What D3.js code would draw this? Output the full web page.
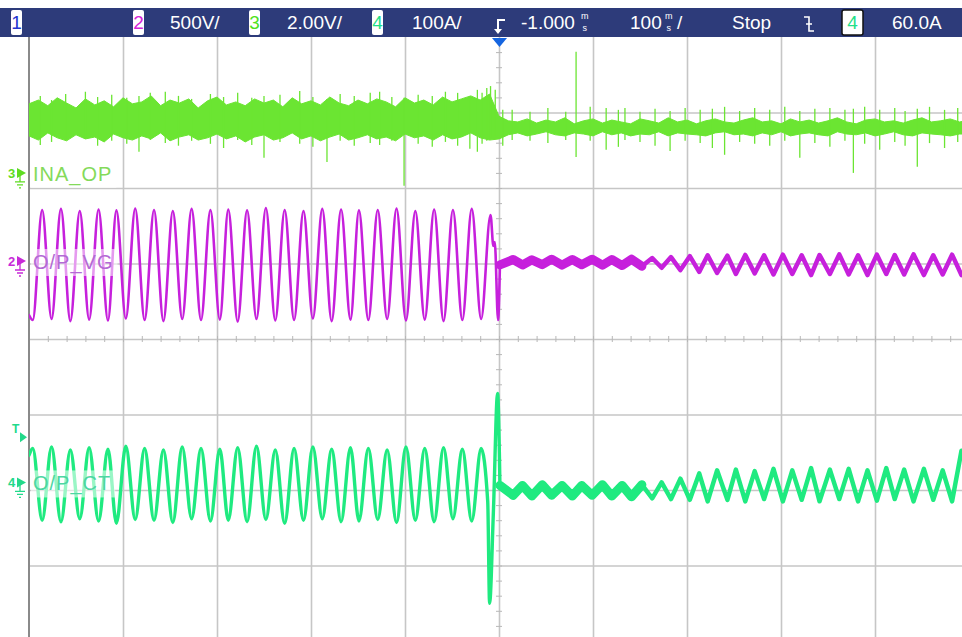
<!DOCTYPE html>
<html>
<head>
<meta charset="utf-8">
<script src="https://cdn.jsdelivr.net/npm/d3@7"></script>
<style>
  html, body { margin: 0; padding: 0; background: #fff; }
  svg { display: block; }
  text { font-family: "Liberation Sans", Arial, sans-serif; }
</style>
</head>
<body>
<svg id="scope" width="962" height="637"></svg>
<script>
// ---------------- channel data (time in ms, trigger at 0) ----------------

// Channel 3 (INA_OP, volts): noise envelope sampled every 10 ms from -500 to 500 ms
const inaHigh = [
  1.83,1.93,1.78,1.99,1.85,1.72,1.96,1.80,1.91,1.75,
  1.99,1.83,1.88,2.04,1.78,1.93,1.85,1.96,1.72,1.91,
  2.01,1.80,1.88,1.78,1.96,1.85,1.93,1.75,1.99,1.83,
  1.91,1.80,2.01,1.85,1.78,1.93,1.83,1.96,1.88,1.75,
  1.99,1.85,1.93,1.80,2.01,1.88,1.96,2.04,1.93,2.09,
  1.50,
  1.38,1.35,1.43,1.32,1.40,1.35,1.46,1.30,1.38,1.43,
  1.32,1.40,1.35,1.30,1.43,1.38,1.32,1.46,1.35,1.40,
  1.30,1.38,1.43,1.35,1.32,1.40,1.46,1.35,1.38,1.30,
  1.43,1.35,1.40,1.32,1.38,1.46,1.35,1.30,1.40,1.43,
  1.35,1.38,1.32,1.40,1.46,1.35,1.38,1.43,1.35,1.40
];
const inaLow = [
  0.98,0.87,1.06,0.93,0.85,1.01,0.90,0.95,0.82,1.03,
  0.93,0.87,0.98,0.90,1.06,0.85,0.95,1.01,0.87,0.93,
  1.03,0.90,0.98,0.82,0.95,1.01,0.87,0.93,1.06,0.90,
  0.98,0.85,0.95,1.03,0.87,0.93,1.01,0.90,0.95,0.85,
  1.03,0.93,0.98,0.87,1.01,0.90,0.95,1.06,0.93,0.87,
  0.90,
  1.01,1.06,0.98,1.03,1.09,1.01,0.98,1.06,1.03,0.98,
  1.09,1.01,1.06,0.98,1.03,1.01,1.09,0.98,1.06,1.03,
  1.01,0.98,1.06,1.09,1.01,1.03,0.98,1.06,1.01,1.09,
  0.98,1.03,1.06,1.01,0.98,1.09,1.03,1.01,1.06,0.98,
  1.03,1.09,1.01,0.98,1.06,1.03,1.01,0.98,1.03,1.03
];
// Channel 3 glitches: [time ms, min V, max V]
const inaSpikes = [
  [-488,0.74,2.04],[-476,0.82,1.93],[-461,0.87,2.09],[-440,0.93,2.15],[-427,0.72,2.01],
  [-412,0.85,2.07],[-396,0.77,1.99],[-383,0.56,2.04],[-371,0.87,2.12],[-355,0.79,2.15],
  [-341,0.72,2.04],[-327,0.85,1.96],[-307,0.77,2.09],[-293,0.66,2.01],[-278,0.87,2.12],
  [-263,0.74,1.99],[-250,0.40,2.04],[-233,0.82,2.07],[-212,0.77,2.17],[-198,0.69,2.01],
  [-183,0.29,1.96],[-169,0.85,2.09],[-154,0.72,2.04],[-137,0.79,2.12],[-127,0.74,2.15],
  [-114,0.85,2.01],[-101,-0.34,1.99],[-86,0.77,2.07],[-71,0.69,2.04],[-57,0.82,2.15],
  [-44,0.72,2.12],[-31,0.64,2.04],[-23,0.56,2.20],[-18,0.77,2.12],[-13,0.85,2.25],
  [-9,0.93,2.30],[-4,0.98,2.20],
  [4,0.72,1.67],[14,0.87,1.67],[33,0.85,1.62],[52,0.79,1.72],[71,0.87,1.62],
  [82,0.42,3.21],[97,0.85,1.75],[114,0.61,1.72],[127,0.69,1.67],[134,0.87,1.72],
  [150,0.82,1.62],[166,0.72,1.70],[182,0.58,1.64],[198,0.85,1.72],[214,0.79,1.67],
  [227,0.66,1.70],[240,0.48,1.75],[256,0.82,1.64],[272,0.77,1.72],[288,0.72,1.67],
  [304,0.85,1.75],[320,0.40,1.64],[336,0.79,1.70],[352,0.69,1.72],[368,0.85,1.67],
  [377,0.00,1.70],[389,0.77,1.75],[405,0.61,1.67],[421,0.82,1.72],[432,0.72,1.64],
  [445,0.16,1.70],[458,0.79,1.75],[474,0.66,1.67],[488,0.82,1.72]
];

// Channel 2 (O/P_VG, volts): turning points of the 50 Hz output before the trip
const vgBefore = [
  [-500,-358],[-496,-391],[-486,338],[-476,-384],[-466,345],[-456,-398],[-446,331],[-436,-388],
  [-426,341],[-416,-394],[-407,335],[-397,-381],[-387,348],[-377,-391],[-367,338],[-357,-398],
  [-347,331],[-337,-384],[-327,345],[-317,-391],[-307,338],[-297,-388],[-288,341],[-278,-401],
  [-268,335],[-258,-384],[-248,351],[-238,-394],[-228,338],[-218,-391],[-208,331],[-198,-381],
  [-188,345],[-178,-398],[-168,341],[-158,-388],[-149,335],[-139,-391],[-129,338],[-119,-384],
  [-109,348],[-99,-394],[-89,331],[-79,-388],[-69,341],[-59,-398],[-49,338],[-39,-391],
  [-29,345],[-19,-384],[-9,305],[-6,100],[-4.5,125],[-1,-391]
];
// ...and the residual ripple after it
const vgAfter = [
  [1,-26],[15,10],[25,-26],[35,8],[46,-24],[56,12],[67,-27],[78,10],[88,-25],[99,12],
  [110,-28],[120,10],[131,-30],[141,12],[152,-35],[163,20],[173,-45],[183,26],[193,-60],
  [203,32],[213,-72],[222,38],[232,-79],[243,36],[252,-86],[262,40],[272,-82],[282,38],
  [292,-89],[302,42],[312,-86],[322,38],[332,-93],[341,40],[352,-86],[362,44],[372,-89],
  [382,38],[392,-93],[402,42],[412,-86],[421,40],[431,-89],[441,44],[452,-93],[462,38],
  [472,-89],[482,42],[492,-93]
];

// Channel 4 (O/P_CT, amps): turning points before the trip, including the transient
const ctBefore = [
  [-500,36],[-496,45],[-486,-50],[-476,47],[-466,-52],[-456,43],[-446,-48],[-436,46],
  [-426,-51],[-416,44],[-407,-54],[-397,48],[-387,-49],[-377,45],[-367,-50],[-357,43],
  [-347,-53],[-337,47],[-327,-48],[-317,45],[-307,-51],[-297,44],[-288,-50],[-278,46],
  [-268,-52],[-258,48],[-248,-49],[-238,43],[-228,-54],[-218,45],[-208,-50],[-198,47],
  [-188,-48],[-178,44],[-168,-52],[-158,46],[-149,-51],[-139,45],[-129,-49],[-119,43],
  [-109,-53],[-99,47],[-89,-50],[-79,45],[-69,-52],[-59,46],[-49,-48],[-39,44],
  [-29,-51],[-19,45],[-12,-25],[-10,-160],[-6,-40],[-1.5,118]
];
const ctAfter = [
  [1,-4],[15,-17],[25,-4],[35,-18],[46,-3],[56,-17],[67,-4],[78,-18],[88,-4],[99,-17],
  [110,-3],[120,-18],[131,-4],[141,-19],[152,-3],[163,-21],[173,0],[183,-22],[193,5],
  [203,-23],[213,12],[222,-25],[232,16],[243,-23],[252,17],[262,-25],[272,15],[282,-22],
  [292,18],[302,-25],[312,16],[322,-23],[332,19],[341,-25],[352,17],[362,-22],[372,18],
  [382,-25],[392,16],[402,-24],[412,19],[421,-22],[431,17],[441,-25],[452,18],[462,-23],
  [472,16],[482,-25],[492,42]
];

// Status bar text
const channelIds   = ["1", "2", "3", "4"];
const channelScale = ["500V/", "2.00V/", "100A/"];
const timeDelay    = "-1.000";
const timeBase     = "100";
const runState     = "Stop";
const trigSource   = "4";
const trigLevel    = "60.0A";
const trigLevelAmps = 60;
const traceNames   = ["INA_OP", "O/P_VG", "O/P_CT"];

// ---------------- geometry ----------------
const W = 962, H = 637;
const plot = { left: 29, top: 37, divX: 94, divY: 75.5 };
const x = d3.scaleLinear().domain([-500, 500]).range([plot.left, plot.left + 10 * plot.divX]);
const yDiv = d3.scaleLinear().domain([-4, 4]).range([plot.top + 8 * plot.divY, plot.top]);
// per-channel vertical scale from units/div and position (divisions)
function chScale(perDiv, posDiv) {
  return d3.scaleLinear()
    .domain([(-4 - posDiv) * perDiv, (4 - posDiv) * perDiv])
    .range(yDiv.range());
}
const y2 = chScale(500, 1.033);
const y3 = chScale(2, 2.2);
const y4 = chScale(100, -1.9);

const col = {
  ch1: "#2636d0", ch2: "#c620dc", ch3: "#6be532", ch4: "#1fea80",
  lab2: "#b36ad4", lab3: "#84da5a", lab4: "#4cd6a2",
  grid: "#c6c6c6", bar: "#2d3b7a"
};

const svg = d3.select("#scope");
svg.append("rect").attr("width", W).attr("height", H).attr("fill", "#fff");

svg.append("defs").append("clipPath").attr("id", "plotClip")
  .append("rect").attr("x", plot.left).attr("y", plot.top)
  .attr("width", W - plot.left).attr("height", H - plot.top);

// ---------------- graticule ----------------
const grid = svg.append("g");
const gx = grid.append("g").attr("transform", `translate(0,${plot.top})`)
  .call(d3.axisBottom(x).tickValues(d3.range(-400, 501, 100)).tickSize(8 * plot.divY).tickFormat(""));
gx.select(".domain").remove();
gx.selectAll("line").attr("stroke", col.grid).attr("stroke-width", 1.6);

const gy = grid.append("g").attr("transform", `translate(${plot.left},0)`)
  .call(d3.axisRight(yDiv).tickValues(d3.range(-3, 4, 1)).tickSize(10 * plot.divX).tickFormat(""));
gy.select(".domain").remove();
gy.selectAll("line").attr("stroke", col.grid).attr("stroke-width", 1.6);

// minor ticks on the centre lines
const mh = grid.append("g").attr("transform", `translate(0,${yDiv(0) - 3})`)
  .call(d3.axisBottom(x).tickValues(d3.range(-480, 501, 20)).tickSize(6).tickFormat(""));
mh.select(".domain").remove();
mh.selectAll("line").attr("stroke", "#b8b8b8").attr("stroke-width", 1);
const mv = grid.append("g").attr("transform", `translate(${x(0) - 3},0)`)
  .call(d3.axisRight(yDiv).tickValues(d3.range(-3.8, 4, 0.2)).tickSize(6).tickFormat(""));
mv.select(".domain").remove();
mv.selectAll("line").attr("stroke", "#b8b8b8").attr("stroke-width", 1);

// left frame edge
grid.append("line").attr("x1", plot.left).attr("x2", plot.left)
  .attr("y1", plot.top).attr("y2", H).attr("stroke", "#8a8a8a").attr("stroke-width", 2);

// ---------------- traces ----------------
const traces = svg.append("g").attr("clip-path", "url(#plotClip)");

// channel 3: noise band + glitches
const inaTimes = d3.range(-500, 501, 10);
const inaArea = d3.area()
  .x((d, i) => x(inaTimes[i]))
  .y0((d, i) => y3(inaLow[i]))
  .y1((d, i) => y3(inaHigh[i]))
  .curve(d3.curveLinear);
traces.append("path").datum(inaHigh).attr("d", inaArea)
  .attr("fill", col.ch3).attr("stroke", col.ch3).attr("stroke-width", 1);
traces.append("g").selectAll("line").data(inaSpikes).join("line")
  .attr("x1", d => x(d[0])).attr("x2", d => x(d[0]))
  .attr("y1", d => y3(d[1])).attr("y2", d => y3(d[2]))
  .attr("stroke", col.ch3).attr("stroke-width", 1.3);

function trace(data, ys, color, width, curve) {
  traces.append("path").datum(data)
    .attr("d", d3.line().x(d => x(d[0])).y(d => ys(d[1])).curve(curve))
    .attr("fill", "none").attr("stroke", color).attr("stroke-width", width)
    .attr("stroke-linejoin", "round").attr("stroke-linecap", "round");
}
const split = 152;

// channel 2
trace(vgBefore.concat([vgAfter[0]]), y2, col.ch2, 2.6, d3.curveMonotoneX);
trace(vgAfter.filter(d => d[0] <= split), y2, col.ch2, 9, d3.curveLinear);
trace(vgAfter.filter(d => d[0] >= split), y2, col.ch2, 4.5, d3.curveLinear);

// channel 4
trace(ctBefore.concat([ctAfter[0]]), y4, col.ch4, 3.4, d3.curveMonotoneX);
trace(ctAfter.filter(d => d[0] <= split), y4, col.ch4, 9, d3.curveLinear);
trace(ctAfter.filter(d => d[0] >= split), y4, col.ch4, 4.5, d3.curveLinear);

// ---------------- trace labels ----------------
const labelDefs = [
  { name: traceNames[0], ys: y3, color: col.lab3 },
  { name: traceNames[1], ys: y2, color: col.lab2 },
  { name: traceNames[2], ys: y4, color: col.lab4 }
];
const lab = svg.append("g");
labelDefs.forEach(l => {
  const base = l.ys(0) + 8;
  const t = lab.append("text").attr("x", 33).attr("y", base)
    .attr("font-size", 20).attr("letter-spacing", 1).attr("fill", l.color).text(l.name);
  const bb = t.node().getBBox();
  lab.insert("rect", "text").attr("x", bb.x - 2).attr("y", bb.y - 2)
    .attr("width", bb.width + 6).attr("height", bb.height + 4)
    .attr("fill", "#fff").attr("fill-opacity", 0.55);
});

// ---------------- channel markers on the left edge ----------------
const mk = svg.append("g");
function groundMarker(yPos, id, color) {
  mk.append("text").attr("x", 8).attr("y", yPos + 5).attr("font-size", 13)
    .attr("font-weight", "bold").attr("fill", color).text(id);
  mk.append("path").attr("d", `M17,${yPos - 5} L26,${yPos} L17,${yPos + 5} Z`).attr("fill", color);
  mk.append("path")
    .attr("d", `M20,${yPos + 2} V${yPos + 9} M15,${yPos + 9} H25 M17,${yPos + 12} H23 M19,${yPos + 15} H21`)
    .attr("stroke", color).attr("stroke-width", 1.3).attr("fill", "none");
}
groundMarker(y3(0), "3", "#5fdc22");
groundMarker(y2(0), "2", "#c82ad8");
groundMarker(y4(0), "4", "#22d98a");
// trigger level
const ty = y4(trigLevelAmps);
mk.append("text").attr("x", 12).attr("y", ty - 4).attr("font-size", 12)
  .attr("font-weight", "bold").attr("fill", "#22d98a").text("T");
mk.append("path").attr("d", `M20,${ty - 5} L27,${ty} L20,${ty + 5} Z`).attr("fill", "#22d98a");

// ---------------- status bar ----------------
const bar = svg.append("g");
bar.append("rect").attr("x", 0).attr("y", 8).attr("width", W).attr("height", 29).attr("fill", col.bar);

function chBox(xPos, id, color, w, border) {
  bar.append("rect").attr("x", xPos).attr("y", 10).attr("width", w).attr("height", 25).attr("rx", 2)
    .attr("fill", "#fff").attr("stroke", border ? "#111" : "none").attr("stroke-width", 1.5);
  bar.append("text").attr("x", xPos + w / 2).attr("y", 29).attr("text-anchor", "middle")
    .attr("font-size", 19).attr("fill", color).text(id);
}
function barText(xPos, s) {
  return bar.append("text").attr("x", xPos).attr("y", 29).attr("font-size", 19)
    .attr("fill", "#fff").text(s);
}
// stacked "m over s" unit glyph, as one text element
function msUnit(xPos) {
  const t = bar.append("text").attr("font-size", 9).attr("fill", "#fff");
  t.append("tspan").attr("x", xPos).attr("y", 19).text("m");
  t.append("tspan").attr("x", xPos + 1.5).attr("y", 30.5).text("s");
}
chBox(11, channelIds[0], col.ch1, 11);
chBox(133, channelIds[1], "#d624d8", 11);
barText(170, channelScale[0]);
chBox(249, channelIds[2], "#4fe21e", 11);
barText(287, channelScale[1]);
chBox(372, channelIds[3], "#1fe08a", 11);
barText(412, channelScale[2]);

// trigger-position glyph and marker
bar.append("path").attr("d", "M505,20 H498 V31").attr("stroke", "#fff").attr("stroke-width", 2).attr("fill", "none");
bar.append("path").attr("d", "M494,29 L502,29 L498,34 Z").attr("fill", "#fff");
svg.append("path").attr("d", `M${x(0) - 7},38 L${x(0) + 8},38 L${x(0) + 0.5},47 Z`).attr("fill", "#1565e0");

barText(521, timeDelay);
msUnit(581);
barText(630, timeBase);
msUnit(665);
bar.append("text").attr("x", 677).attr("y", 29).attr("font-size", 19).attr("fill", "#fff").text("/");
barText(732, runState);
// edge glyph
bar.append("path").attr("d", "M804,17 H809 V31 H814 M806,24 H812").attr("stroke", "#fff")
  .attr("stroke-width", 1.6).attr("fill", "none");
chBox(842, trigSource, "#1fe08a", 21, true);
barText(892, trigLevel);
</script>
</body>
</html>
